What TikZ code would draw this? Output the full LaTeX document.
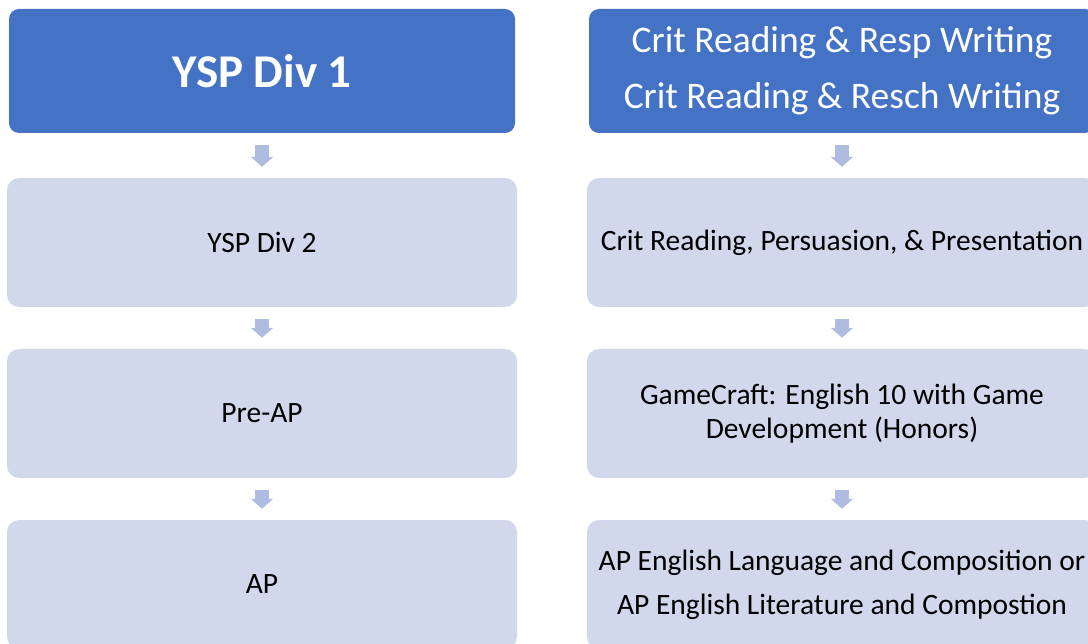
\documentclass[tikz,border=0pt]{standalone}
\usepackage{fontspec}
\setmainfont{Carlito}
\usetikzlibrary{arrows.meta,calc}
\definecolor{hdr}{HTML}{4472C4}
\definecolor{lite}{HTML}{D2D8EC}
\definecolor{arr}{HTML}{AFBCE0}
\tikzset{
  hdrbox/.style={rectangle, rounded corners=10pt, fill=hdr, text=white, minimum width=506pt, minimum height=124pt, inner sep=0pt, align=center},
  litebox/.style={rectangle, rounded corners=12pt, fill=lite, text=black, minimum width=510pt, minimum height=129pt, inner sep=0pt, align=center, font=\fontsize{29.5}{34}\selectfont},
  flowarr/.style={draw=arr, line width=14pt, -{Triangle[width=22pt,length=10pt]}}
}
\begin{document}
\begin{tikzpicture}[x=1pt,y=-1pt]
\useasboundingbox (0,0) rectangle (1088,644);
% left column
\node[hdrbox, font=\fontsize{47}{56}\bfseries\selectfont] (l1) at (262,71) {YSP Div 1};
\node[litebox] (l2) at (262,242.5) {YSP Div 2};
\node[litebox] (l3) at (262,413.5) {Pre-AP};
\node[litebox] (l4) at (262,584.5) {AP};
% right column
\node[hdrbox, font=\fontsize{37.5}{56}\selectfont] (r1) at (842,71) {Crit Reading \& Resp Writing\\Crit Reading \& Resch Writing};
\node[litebox] (r2) at (842,242.5) {Crit Reading, Persuasion, \& Presentation};
\node[litebox] (r3) at (842,413.5) {GameCraft: English 10 with Game\\Development (Honors)};
\node[litebox, font=\fontsize{29.5}{44}\selectfont] (r4) at (842,584.5) {AP English Language and Composition or\\AP English Literature and Compostion};
% arrows
\foreach \a/\b in {l1/l2,l2/l3,l3/l4,r1/r2,r2/r3,r3/r4}{
  \draw[flowarr] ($(\a.south)+(0,12)$) -- ($(\b.north)+(0,-11)$);
}
\end{tikzpicture}
\end{document}
